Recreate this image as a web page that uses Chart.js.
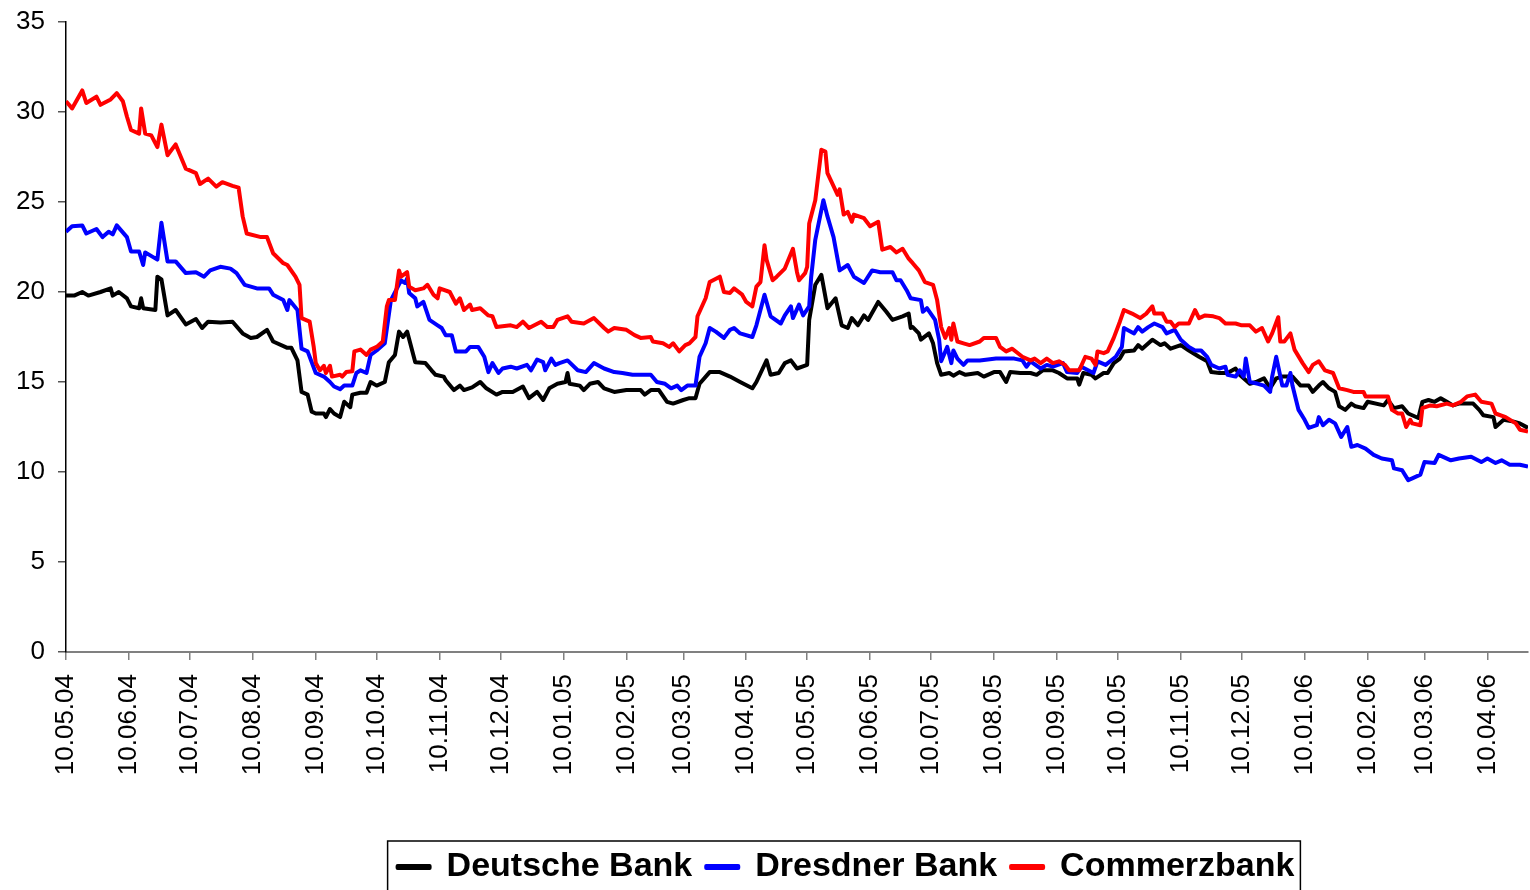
<!DOCTYPE html>
<html lang="de">
<head>
<meta charset="utf-8">
<title>Deutsche Bank, Dresdner Bank, Commerzbank</title>
<script src="https://cdn.jsdelivr.net/npm/chart.js@4.4.1/dist/chart.umd.min.js"></script>
<style>
  html, body { margin: 0; padding: 0; background: #fff; }
  #box { width: 1530px; height: 890px; }
</style>
</head>
<body>
<div id="box"><canvas id="grafico"></canvas></div>
<script>
// Monatsmarken der x-Achse
const monate = ['10.05.04', '10.06.04', '10.07.04', '10.08.04', '10.09.04', '10.10.04',
    '10.11.04', '10.12.04', '10.01.05', '10.02.05', '10.03.05', '10.04.05', '10.05.05',
    '10.06.05', '10.07.05', '10.08.05', '10.09.05', '10.10.05', '10.11.05', '10.12.05',
    '10.01.06', '10.02.06', '10.03.06', '10.04.06'];

const yTicks = [0, 5, 10, 15, 20, 25, 30, 35];

// Werte: [Tage seit 10.05.04, Wert]
const deutsche = [[0,19.8],[4,19.8],[8,20.0],[11,19.8],[17,20.0],[22,20.2],[23,19.8],[26,20.0],[30,19.65],[32,19.2],[36,19.1],[37,19.65],[38,19.1],[44,19.0],[45,20.85],[47,20.7],[50,18.7],[54,19.0],[59,18.2],[64,18.5],[67,18.0],[70,18.35],[76,18.3],[82,18.35],[87,17.7],[91,17.45],[94,17.5],[99,17.9],[102,17.25],[109,16.9],[111,16.9],[114,16.2],[116,14.45],[119,14.3],[121,13.35],[123,13.25],[127,13.25],[128,13.05],[130,13.5],[132,13.25],[135,13.05],[137,13.9],[140,13.6],[141,14.3],[145,14.4],[148,14.4],[150,15.0],[153,14.8],[157,15.0],[159,16.1],[162,16.5],[164,17.8],[166,17.5],[168,17.8],[172,16.1],[177,16.05],[180,15.65],[182,15.4],[186,15.3],[187,15.1],[191,14.55],[194,14.8],[196,14.55],[200,14.7],[204,15.0],[207,14.65],[212,14.3],[215,14.45],[220,14.45],[225,14.75],[228,14.1],[232,14.45],[235,14.0],[238,14.65],[242,14.9],[246,15.0],[247,15.5],[248,14.9],[253,14.8],[255,14.55],[258,14.9],[262,15.0],[265,14.65],[270,14.45],[276,14.55],[283,14.55],[285,14.3],[288,14.55],[292,14.55],[296,13.9],[299,13.8],[304,14.0],[307,14.1],[310,14.1],[312,14.9],[317,15.55],[322,15.55],[327,15.3],[332,15.0],[338,14.65],[340,15.0],[345,16.2],[347,15.4],[351,15.5],[354,16.05],[357,16.2],[360,15.75],[365,15.95],[366,18.45],[369,20.4],[372,20.95],[375,19.1],[379,19.65],[382,18.15],[385,18.0],[387,18.55],[390,18.15],[393,18.7],[395,18.45],[400,19.45],[404,18.9],[407,18.45],[412,18.65],[415,18.8],[416,18.0],[417,18.05],[420,17.7],[421,17.35],[425,17.7],[427,17.15],[429,16.05],[431,15.4],[435,15.5],[437,15.35],[440,15.55],[443,15.4],[449,15.5],[452,15.3],[457,15.55],[460,15.55],[463,15.0],[465,15.55],[470,15.5],[475,15.5],[478,15.4],[481,15.65],[486,15.65],[489,15.5],[493,15.2],[498,15.2],[499,14.85],[501,15.5],[505,15.4],[507,15.2],[511,15.5],[513,15.5],[516,16.05],[519,16.3],[521,16.7],[526,16.75],[528,17.05],[530,16.85],[535,17.35],[539,17.05],[541,17.15],[544,16.85],[549,17.05],[553,16.75],[558,16.4],[562,16.15],[564,15.55],[568,15.5],[572,15.5],[576,15.75],[578,15.4],[583,14.9],[586,15.0],[590,15.2],[593,14.65],[596,15.2],[599,15.3],[604,15.3],[608,14.8],[612,14.8],[614,14.45],[617,14.8],[619,15.0],[622,14.65],[625,14.45],[627,13.65],[630,13.45],[633,13.8],[635,13.65],[639,13.55],[641,13.9],[649,13.7],[651,14.0],[654,13.55],[658,13.65],[661,13.25],[666,13.0],[668,13.9],[671,14.0],[674,13.9],[677,14.1],[680,13.9],[683,13.7],[686,13.8],[693,13.8],[696,13.45],[698,13.15],[703,13.05],[704,12.5],[708,12.9],[713,12.8],[716,12.7],[720,12.45]];

const dresdner = [[0,23.35],[3,23.65],[8,23.7],[10,23.25],[15,23.5],[18,23.05],[21,23.35],[23,23.2],[25,23.7],[30,23.05],[32,22.25],[36,22.25],[38,21.5],[39,22.2],[45,21.8],[47,23.85],[50,21.7],[54,21.7],[59,21.05],[64,21.1],[68,20.85],[71,21.2],[76,21.4],[81,21.3],[84,21.05],[88,20.4],[94,20.2],[100,20.2],[102,19.85],[107,19.55],[109,19.0],[110,19.55],[114,19.0],[116,16.85],[119,16.7],[123,15.5],[127,15.3],[130,15.0],[132,14.75],[135,14.6],[137,14.8],[141,14.8],[143,15.5],[145,15.65],[148,15.5],[150,16.5],[153,16.75],[157,17.15],[160,19.55],[163,20.2],[165,20.65],[167,20.5],[168,20.75],[169,19.95],[172,19.65],[173,19.2],[176,19.45],[179,18.45],[183,18.15],[185,18.0],[187,17.6],[190,17.6],[192,16.7],[197,16.7],[199,16.95],[203,16.95],[206,16.4],[208,15.55],[210,16.05],[213,15.5],[215,15.75],[219,15.85],[222,15.75],[227,15.95],[229,15.65],[232,16.25],[235,16.1],[236,15.65],[239,16.3],[241,15.95],[243,16.05],[247,16.2],[252,15.65],[256,15.55],[260,16.05],[265,15.75],[270,15.55],[274,15.5],[279,15.4],[288,15.4],[291,15.0],[295,14.9],[298,14.65],[301,14.8],[303,14.55],[306,14.8],[310,14.8],[312,16.4],[315,17.15],[317,18.0],[320,17.8],[324,17.45],[327,17.9],[329,18.0],[332,17.7],[338,17.5],[340,18.15],[344,19.85],[347,18.65],[352,18.25],[354,18.7],[357,19.2],[358,18.55],[361,19.3],[363,18.7],[366,19.2],[367,20.85],[369,22.9],[373,25.1],[375,24.2],[378,23.05],[381,21.2],[385,21.5],[388,20.85],[393,20.5],[397,21.2],[401,21.1],[407,21.1],[409,20.65],[411,20.65],[414,20.1],[416,19.65],[421,19.55],[422,18.9],[424,19.1],[428,18.45],[430,17.35],[431,16.15],[434,16.95],[436,16.05],[437,16.75],[439,16.3],[442,15.95],[444,16.2],[450,16.2],[458,16.3],[467,16.3],[471,16.2],[473,15.85],[475,16.15],[480,15.75],[483,15.95],[486,15.85],[491,16.05],[493,15.55],[498,15.5],[500,15.85],[506,15.5],[508,16.15],[512,15.95],[517,16.4],[520,16.95],[521,18.0],[526,17.7],[528,18.05],[530,17.8],[533,18.05],[536,18.25],[540,18.05],[542,17.7],[546,17.9],[549,17.35],[553,16.95],[556,16.75],[559,16.75],[562,16.4],[564,15.95],[568,15.75],[571,15.85],[572,15.4],[576,15.3],[578,15.65],[580,15.3],[581,16.3],[583,15.0],[587,14.9],[590,14.8],[593,14.45],[594,15.3],[596,16.4],[599,14.8],[601,14.8],[603,15.5],[604,14.8],[607,13.45],[610,12.9],[612,12.45],[616,12.6],[617,13.05],[619,12.6],[622,12.9],[625,12.7],[628,11.95],[631,12.5],[633,11.4],[636,11.5],[640,11.3],[644,10.95],[648,10.75],[653,10.65],[654,10.2],[658,10.1],[661,9.55],[663,9.65],[667,9.85],[669,10.55],[674,10.5],[676,10.95],[682,10.65],[686,10.75],[692,10.85],[697,10.55],[700,10.75],[704,10.5],[707,10.65],[711,10.4],[716,10.4],[720,10.3]];

const commerz = [[0,30.6],[3,30.2],[8,31.2],[10,30.5],[15,30.85],[17,30.4],[22,30.7],[25,31.05],[28,30.6],[30,29.75],[32,29.0],[36,28.8],[37,30.2],[39,28.8],[42,28.7],[45,28.05],[47,29.3],[50,27.6],[54,28.2],[59,26.85],[64,26.6],[66,26.0],[70,26.3],[74,25.85],[77,26.1],[82,25.9],[85,25.8],[87,24.2],[89,23.25],[96,23.05],[99,23.05],[102,22.15],[107,21.6],[109,21.5],[113,20.85],[115,20.4],[116,18.55],[120,18.35],[122,16.95],[123,16.05],[125,15.65],[127,15.9],[128,15.5],[130,15.9],[131,15.3],[135,15.4],[136,15.3],[138,15.55],[141,15.6],[142,16.7],[145,16.8],[148,16.5],[150,16.8],[153,16.95],[156,17.25],[158,19.2],[159,19.55],[162,19.55],[164,21.2],[165,20.85],[168,21.1],[169,20.3],[172,20.1],[176,20.2],[178,20.4],[181,19.85],[183,19.65],[184,20.2],[189,20.0],[192,19.35],[194,19.65],[196,19.0],[199,19.3],[200,19.0],[204,19.1],[208,18.7],[210,18.65],[212,18.05],[219,18.15],[222,18.05],[225,18.35],[228,18.0],[234,18.35],[237,18.05],[240,18.05],[242,18.45],[247,18.65],[249,18.35],[255,18.25],[260,18.55],[265,18.0],[267,17.8],[270,18.0],[276,17.9],[280,17.6],[283,17.45],[288,17.5],[289,17.25],[294,17.15],[297,16.95],[299,17.15],[302,16.7],[305,17.05],[307,17.15],[310,17.5],[311,18.65],[315,19.65],[317,20.55],[322,20.85],[324,20.0],[327,19.95],[329,20.2],[333,19.85],[335,19.45],[338,19.2],[340,20.3],[342,20.55],[344,22.6],[345,21.8],[348,20.65],[350,20.85],[354,21.3],[358,22.4],[360,21.1],[361,20.65],[364,21.05],[365,21.4],[366,23.8],[369,25.1],[372,27.9],[374,27.8],[375,26.6],[380,25.4],[381,25.7],[383,24.3],[385,24.45],[387,23.9],[388,24.3],[393,24.1],[396,23.65],[400,23.9],[402,22.35],[406,22.5],[409,22.2],[412,22.4],[415,21.85],[417,21.6],[420,21.2],[423,20.55],[427,20.4],[429,19.55],[431,18.05],[433,17.45],[435,18.0],[436,17.35],[437,18.25],[439,17.25],[442,17.15],[445,17.05],[450,17.25],[452,17.45],[458,17.45],[460,16.95],[463,16.7],[466,16.85],[471,16.4],[475,16.2],[477,16.3],[480,16.05],[483,16.3],[486,16.05],[489,16.15],[492,15.95],[494,15.65],[499,15.65],[502,16.4],[505,16.3],[507,15.95],[508,16.7],[511,16.6],[513,16.7],[516,17.45],[519,18.35],[521,19.0],[525,18.8],[529,18.55],[532,18.8],[535,19.2],[536,18.8],[540,18.8],[542,18.35],[544,18.35],[546,18.05],[548,18.25],[553,18.25],[556,19.0],[558,18.55],[561,18.7],[565,18.65],[568,18.55],[571,18.25],[576,18.25],[579,18.15],[583,18.15],[586,17.8],[589,18.0],[592,17.25],[594,17.7],[597,18.6],[598,17.25],[600,17.25],[603,17.7],[605,16.8],[609,16.05],[612,15.55],[614,15.95],[617,16.15],[620,15.65],[624,15.5],[627,14.65],[631,14.55],[634,14.45],[639,14.45],[640,14.2],[647,14.2],[651,14.2],[653,13.45],[656,13.25],[658,13.25],[660,12.5],[662,12.9],[663,12.7],[667,12.6],[668,13.55],[672,13.7],[675,13.65],[680,13.8],[683,13.7],[687,13.9],[690,14.2],[694,14.3],[697,13.9],[702,13.8],[704,13.25],[709,13.05],[714,12.7],[716,12.35],[720,12.25]];

const startTag = Date.UTC(2004, 4, 10);
const letzterTag = 720;

// Tage seit dem 10.05.04 fuer eine Marke 'tt.mm.jj'
function tageSeitStart(marke) {
    const [t, m, j] = marke.split('.').map(Number);
    return Math.round((Date.UTC(2000 + j, m - 1, t) - startTag) / 86400000);
}

function alsPunkte(reihe) {
    return reihe.map(([tag, wert]) => ({ x: tag, y: wert }));
}

const schrift = '"Liberation Sans", Arial, Helvetica, sans-serif';
const legendeVersatz = { x: 82, y: 4 };

// Rahmen um die Legende wie im Original
const legendenRahmen = {
    id: 'legendenRahmen',
    afterLayout(chart) {
        const lg = chart.legend;
        lg.left += legendeVersatz.x;
        lg.right += legendeVersatz.x;
        lg.top += legendeVersatz.y;
        lg.bottom += legendeVersatz.y;
    },
    afterDraw(chart) {
        const boxen = chart.legend.legendHitBoxes;
        if (!boxen || !boxen.length) return;
        const erste = boxen[0];
        const letzte = boxen[boxen.length - 1];
        const links = erste.left - 10;
        const rechts = letzte.left + letzte.width + 6;
        const oben = erste.top - 9;
        const ctx = chart.ctx;
        ctx.save();
        ctx.strokeStyle = '#000';
        ctx.lineWidth = 1.5;
        ctx.strokeRect(links, oben, rechts - links, chart.height - oben + 20);
        ctx.restore();
    }
};

const ctx = document.getElementById('grafico').getContext('2d');
const grafico = new Chart(ctx, {
    type: 'line',
    data: {
        datasets: [
            {
                label: 'Deutsche Bank',
                data: alsPunkte(deutsche),
                borderColor: '#000000',
                backgroundColor: '#000000',
                order: 3
            },
            {
                label: 'Dresdner Bank',
                data: alsPunkte(dresdner),
                borderColor: '#0000ff',
                backgroundColor: '#0000ff',
                order: 2
            },
            {
                label: 'Commerzbank',
                data: alsPunkte(commerz),
                borderColor: '#ff0000',
                backgroundColor: '#ff0000',
                order: 1
            }
        ]
    },
    options: {
        responsive: true,
        maintainAspectRatio: false,
        animation: false,
        events: [],
        layout: { padding: { top: 22, right: 2, left: 0, bottom: 0 } },
        elements: {
            line: { borderWidth: 4, tension: 0, fill: false, borderJoinStyle: 'round' },
            point: { radius: 0 }
        },
        scales: {
            x: {
                type: 'linear',
                min: 0,
                max: letzterTag,
                afterBuildTicks: (achse) => {
                    achse.ticks = monate.map(m => ({ value: tageSeitStart(m) }));
                },
                afterFit: (achse) => {
                    achse.height = 180;
                    achse.paddingLeft = 0;
                    achse.paddingRight = 0;
                },
                grid: {
                    display: true,
                    drawOnChartArea: false,
                    drawTicks: true,
                    tickLength: 8,
                    color: '#808080',
                    lineWidth: 1.5
                },
                border: { display: true, color: '#808080', width: 2 },
                ticks: {
                    autoSkip: false,
                    minRotation: 90,
                    maxRotation: 90,
                    padding: 14,
                    color: '#000',
                    font: { family: schrift, size: 26 },
                    callback: (wert, i) => monate[i]
                }
            },
            y: {
                min: 0,
                max: 35,
                afterBuildTicks: (achse) => {
                    achse.ticks = yTicks.map(v => ({ value: v }));
                },
                afterFit: (achse) => {
                    achse.width = 66;
                    achse.paddingTop = 0;
                    achse.paddingBottom = 0;
                },
                grid: {
                    display: true,
                    drawOnChartArea: false,
                    drawTicks: true,
                    tickLength: 8,
                    color: '#555',
                    lineWidth: 1.5
                },
                border: { display: true, color: '#000', width: 1.5 },
                ticks: {
                    padding: 13,
                    color: '#000',
                    font: { family: schrift, size: 26 }
                }
            }
        },
        plugins: {
            tooltip: { enabled: false },
            legend: {
                position: 'bottom',
                labels: {
                    boxWidth: 32,
                    boxHeight: 2,
                    padding: 14,
                    color: '#000',
                    font: { family: schrift, size: 34, weight: 'bold' },
                    sort: (a, b) => a.datasetIndex - b.datasetIndex
                }
            }
        }
    },
    plugins: [legendenRahmen]
});
</script>
</body>
</html>
